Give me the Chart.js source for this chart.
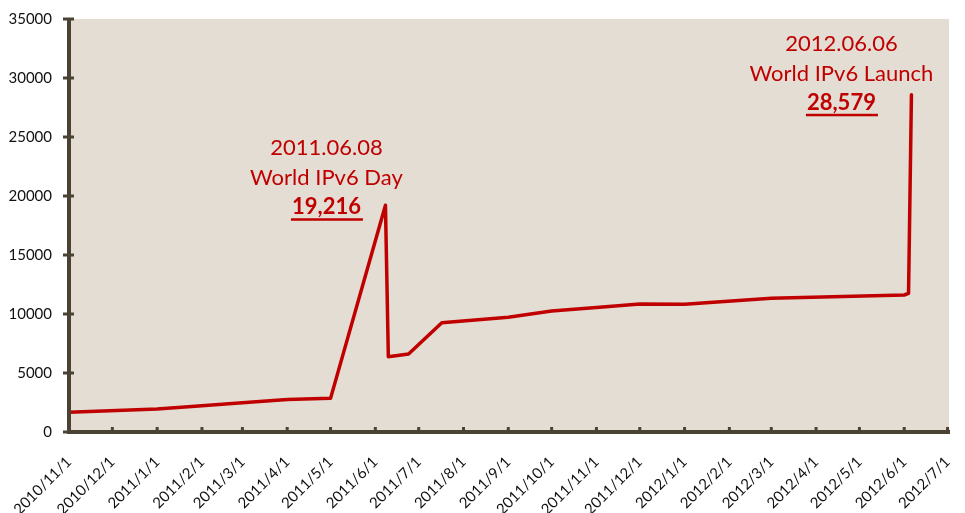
<!DOCTYPE html>
<html><head><meta charset="utf-8">
<script src="https://cdn.jsdelivr.net/npm/chart.js@4.4.1/dist/chart.umd.min.js"></script>
<style>html,body{margin:0;padding:0;background:#fff;}#wrap{width:965px;height:513px;}</style>
</head><body><div id="wrap"><canvas id="c" width="965" height="513"></canvas></div>
<script>
// ---- data ----
const pointDates = ['2010-11-01','2011-01-01','2011-02-01','2011-03-01','2011-04-01','2011-05-01',
  '2011-06-08','2011-06-10','2011-06-24','2011-07-17','2011-09-01','2011-10-01','2011-11-01',
  '2011-12-01','2012-01-01','2012-03-01','2012-06-01','2012-06-04','2012-06-06'];
const users = [1670,1950,2230,2480,2750,2850,19216,6380,6610,9260,9720,10250,10550,10850,10820,11330,11610,11750,28579];
const tickDates = ['2010-11-01','2010-12-01','2011-01-01','2011-02-01','2011-03-01','2011-04-01','2011-05-01',
  '2011-06-01','2011-07-01','2011-08-01','2011-09-01','2011-10-01','2011-11-01','2011-12-01','2012-01-01',
  '2012-02-01','2012-03-01','2012-04-01','2012-05-01','2012-06-01','2012-07-01'];
const tickLabels = ['2010/11/1','2010/12/1','2011/1/1','2011/2/1','2011/3/1','2011/4/1','2011/5/1',
  '2011/6/1','2011/7/1','2011/8/1','2011/9/1','2011/10/1','2011/11/1','2011/12/1','2012/1/1',
  '2012/2/1','2012/3/1','2012/4/1','2012/5/1','2012/6/1','2012/7/1'];
const yTicks = [0,5000,10000,15000,20000,25000,30000,35000];
const noteDates = ['2011.06.08','2012.06.06'];
const noteTitles = ['World IPv6 Day','World IPv6 Launch'];
const notePoints = ['2011-06-08','2012-06-06'];

const START = Date.UTC(2010,10,1);
function dayOf(s){const p=s.split('-').map(Number);return (Date.UTC(p[0],p[1]-1,p[2])-START)/86400000;}
const tickDays = tickDates.map(dayOf);
const points = pointDates.map((d,i)=>({x:dayOf(d), y:users[i]}));

const RED = '#C00000', AXIS = '#4a4232', BG = '#E3DDD3';

const decor = {
  id:'decor',
  beforeDraw(chart){
    const a=chart.chartArea, c=chart.ctx;
    c.save(); c.fillStyle=BG; c.fillRect(a.left,a.top,a.right-a.left,a.bottom-a.top); c.restore();
  },
  afterDraw(chart){
    const a=chart.chartArea, c=chart.ctx, xs=chart.scales.x, ys=chart.scales.y;
    c.save();
    c.strokeStyle=AXIS; c.lineCap='butt';
    c.lineWidth=4;
    c.beginPath(); c.moveTo(a.left, a.top); c.lineTo(a.left, a.bottom+2); c.stroke();
    c.beginPath(); c.moveTo(a.left-2, a.bottom); c.lineTo(a.right+1, a.bottom); c.stroke();
    c.lineWidth=3;
    yTicks.forEach(v=>{const y=ys.getPixelForValue(v); c.beginPath(); c.moveTo(a.left-6,y); c.lineTo(a.left+5,y); c.stroke();});
    tickDays.forEach(d=>{const x=xs.getPixelForValue(d); c.beginPath(); c.moveTo(x,a.bottom); c.lineTo(x,a.bottom-5); c.stroke();});
    const cfg=[{dx:-59,dy:2},{dx:-70,dy:8}];
    notePoints.forEach((nd,i)=>{
      const idx=pointDates.indexOf(nd);
      const px=xs.getPixelForValue(dayOf(nd)), py=ys.getPixelForValue(users[idx]);
      const cx=px+cfg[i].dx, y3=py+cfg[i].dy;
      c.fillStyle=RED; c.textAlign='center'; c.textBaseline='middle';
      c.font='22px Lato';
      c.fillText(noteDates[i], cx, y3-59);
      c.fillText(noteTitles[i], cx, y3-29);
      c.font='bold 22px Lato';
      const txt=users[idx].toLocaleString('en-US');
      c.fillText(txt, cx, y3);
      const w=c.measureText(txt).width;
      c.fillRect(cx-w/2-1, y3+11, w+3, 2.5);
    });
    c.restore();
  }
};

new Chart(document.getElementById('c'), {
  type:'line',
  data:{datasets:[{data:points, borderColor:RED, borderWidth:3.5, pointRadius:0, tension:0,
    borderJoinStyle:'round', borderCapStyle:'round', fill:false}]},
  options:{
    responsive:false, animation:false, devicePixelRatio:1,
    layout:{padding:{top:19,right:16,left:0,bottom:0}},
    plugins:{legend:{display:false}, tooltip:{enabled:false}},
    scales:{
      x:{type:'linear', min:0, max:tickDays[tickDays.length-1]+1,
        grid:{display:false, drawTicks:false}, border:{display:false},
        afterBuildTicks(s){ s.ticks = tickDays.map(v=>({value:v})); },
        afterFit(s){ s.height = 81; s.paddingLeft=0; s.paddingRight=0; },
        ticks:{autoSkip:false, maxRotation:45, minRotation:45, padding:21, color:'#111',
          font:{family:'Lato', size:15},
          callback(v){ const i=tickDays.indexOf(v); return i>=0?tickLabels[i]:''; }}
      },
      y:{min:0, max:35000,
        grid:{display:false, drawTicks:false}, border:{display:false},
        afterBuildTicks(s){ s.ticks = yTicks.map(v=>({value:v})); },
        afterFit(s){ s.width = 69; s.paddingTop=0; s.paddingBottom=0; },
        ticks:{padding:17, color:'#111', font:{family:'Lato', size:15},
          callback(v){ return String(v); }}
      }
    }
  },
  plugins:[decor]
});
</script></body></html>
